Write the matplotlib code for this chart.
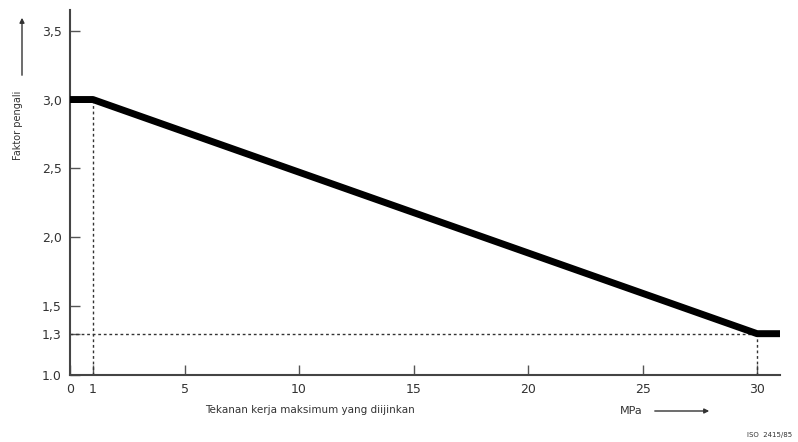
import matplotlib
matplotlib.use("Agg")
import matplotlib.pyplot as plt

# Data
pressure = [0, 1, 30, 31]          # MPa
factor = [3.0, 3.0, 1.3, 1.3]      # Faktor pengali
xticks = [0, 1, 5, 10, 15, 20, 25, 30]
xticklabels = ["0", "1", "5", "10", "15", "20", "25", "30"]
yticks = [1.0, 1.3, 1.5, 2.0, 2.5, 3.0, 3.5]
yticklabels = ["1.0", "1,3", "1,5", "2,0", "2,5", "3,0", "3,5"]

W, H = 798, 442
fig = plt.figure(figsize=(W / 100, H / 100), dpi=100)
ax = fig.add_axes([70 / W, 1 - 375 / H, (780 - 70) / W, (375 - 10) / H])
ax.set_xlim(0, 31)
ax.set_ylim(1.0, 3.65)

ax.plot(pressure, factor, color="black", lw=5, solid_capstyle="butt",
        solid_joinstyle="round", zorder=3)

# reference dashed lines
ax.plot([1, 1], [1.0, 3.0], color="#333333", lw=1, ls=(0, (2, 2)), zorder=2)
ax.plot([0, 30], [1.3, 1.3], color="#333333", lw=1, ls=(0, (2, 2)), zorder=2)
ax.plot([30, 30], [1.0, 1.3], color="#333333", lw=1, ls=(0, (2, 2)), zorder=2)

for s in ["top", "right"]:
    ax.spines[s].set_visible(False)
for s in ["left", "bottom"]:
    ax.spines[s].set_color("#444444")
    ax.spines[s].set_linewidth(1.5)

ax.set_xticks(xticks)
ax.set_xticklabels(xticklabels)
ax.set_yticks(yticks)
ax.set_yticklabels(yticklabels)
ax.tick_params(axis="both", direction="in", length=7, width=1, color="#555555",
               labelsize=9, labelcolor="#333333")
ax.tick_params(axis="x", pad=6)
ax.tick_params(axis="y", pad=6)

# axis labels
fig.text(310 / W, 1 - 410 / H, "Tekanan kerja maksimum yang diijinkan",
         fontsize=7.5, color="#333333", ha="center", va="center")
fig.text(620 / W, 1 - 411 / H, "MPa", fontsize=8, color="#333333", ha="left", va="center")
ax.annotate("", xy=(712 / W, 1 - 411 / H), xytext=(652 / W, 1 - 411 / H),
            xycoords="figure fraction", textcoords="figure fraction", annotation_clip=False,
            arrowprops=dict(arrowstyle="-|>", color="#333333", lw=1, mutation_scale=7))
fig.text(18 / W, 1 - 125 / H, "Faktor pengali", fontsize=7, color="#333333",
         rotation=90, ha="center", va="center")
ax.annotate("", xy=(22 / W, 1 - 15 / H), xytext=(22 / W, 1 - 78 / H),
            xycoords="figure fraction", textcoords="figure fraction", annotation_clip=False,
            arrowprops=dict(arrowstyle="-|>", color="#333333", lw=1, mutation_scale=7))
fig.text(770 / W, 1 - 435 / H, "ISO  2415/85", fontsize=5, color="#333333",
         ha="center", va="center")

fig.savefig("out.png", dpi=100)
